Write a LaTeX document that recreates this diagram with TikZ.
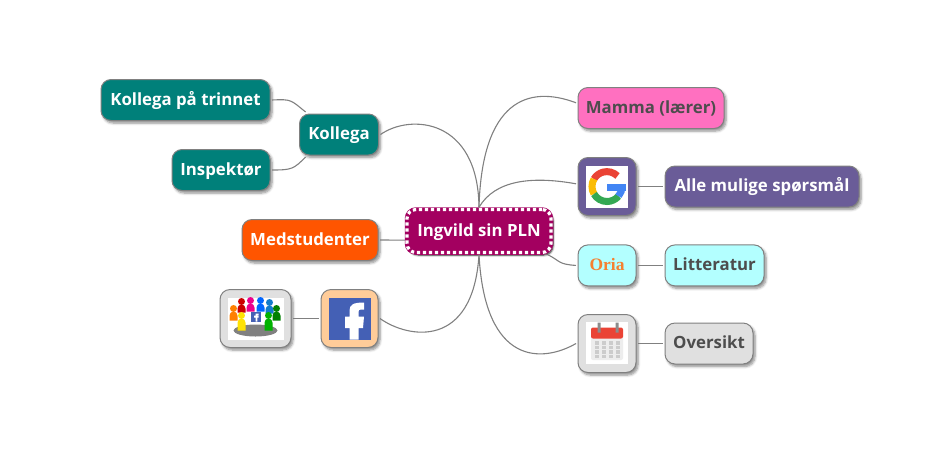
\documentclass[tikz,border=0pt]{standalone}
\usepackage{fontspec}
\setmainfont{Open Sans}
\newfontfamily\oriafont{Liberation Serif}
\usetikzlibrary{shadows,shadows.blur}

\definecolor{tealcol}{HTML}{00807A}
\definecolor{orangecol}{HTML}{FF5500}
\definecolor{rootcol}{HTML}{A30060}
\definecolor{pinkcol}{HTML}{FF70C0}
\definecolor{violetcol}{HTML}{6A5C98}
\definecolor{cyancol}{HTML}{B3FFFF}
\definecolor{greycol}{HTML}{E0E0E0}
\definecolor{peachcol}{HTML}{FFCC99}
\definecolor{edgecol}{HTML}{808080}
\definecolor{darktext}{HTML}{4D4D4D}
\definecolor{fbblue}{HTML}{4460B5}
\definecolor{oriacol}{HTML}{F58030}
\definecolor{gred}{HTML}{EA4335}
\definecolor{gyellow}{HTML}{FBBC05}
\definecolor{ggreen}{HTML}{34A853}
\definecolor{gblue}{HTML}{4285F4}

\tikzset{
  mapnode/.style={draw=edgecol,line width=1pt,rounded corners=10pt,inner sep=0pt,outer sep=2pt,
    minimum height=41pt,text height=13pt,text depth=3pt,font=\fontsize{16.8}{18}\selectfont\bfseries,
    blur shadow={shadow xshift=2pt,shadow yshift=-2.5pt,shadow blur steps=6,shadow blur radius=2.5pt,shadow opacity=45}},
  lightnode/.style={mapnode,text=darktext},
  darknode/.style={mapnode,text=white},
  iconbox/.style={mapnode,minimum width=58pt,minimum height=58pt},
  rootnode/.style={rounded corners=9pt,fill=rootcol,draw=rootcol,line width=4.5pt,text=white,inner sep=0pt,
    minimum width=144pt,minimum height=43pt,text height=13pt,text depth=3pt,font=\fontsize{16.8}{18}\selectfont\bfseries,
    blur shadow={shadow xshift=2pt,shadow yshift=-2.5pt,shadow blur steps=6,shadow blur radius=2pt,shadow opacity=90},
    postaction={draw=white,line width=3.2pt,dash pattern=on 3.2pt off 2.8pt}},
  link/.style={draw=edgecol,line width=1.1pt},
}

\begin{document}
\begin{tikzpicture}[x=1pt,y=-1pt]
\useasboundingbox (0,0) rectangle (940,475);

% nodes
\node[rootnode] (root) at (479,231) {Ingvild sin PLN};
\node[darknode,fill=orangecol,minimum width=136pt] (medstud) at (310,240) {Medstudenter};
\node[darknode,fill=tealcol,minimum width=169pt] (trinnet) at (185.5,100) {Kollega på trinnet};
\node[darknode,fill=tealcol,minimum width=79pt] (kollega) at (339,134.5) {Kollega};
\node[darknode,fill=tealcol,minimum width=98pt] (inspektor) at (221,170) {Inspektør};
\node[lightnode,fill=pinkcol,minimum width=146pt] (mamma) at (651,108) {Mamma (lærer)};
\node[iconbox,fill=violetcol] (google) at (607,186.5) {};
\node[darknode,fill=violetcol,minimum width=194pt] (alle) at (762,186.5) {Alle mulige spørsmål};
\node[lightnode,fill=cyancol,minimum width=58pt] (oria) at (607,265.4) {\oriafont\fontsize{17.5}{18}\selectfont\textcolor{oriacol}{Oria}};
\node[lightnode,fill=cyancol,minimum width=99pt] (litteratur) at (714.5,265.4) {Litteratur};
\node[iconbox,fill=greycol] (kalender) at (607,343.5) {};
\node[lightnode,fill=greycol,minimum width=88pt] (oversikt) at (709,343.5) {Oversikt};
\node[iconbox,fill=peachcol,minimum width=57pt] (facebook) at (349.5,318.5) {};
\node[iconbox,fill=greycol,minimum width=71pt] (gruppe) at (255.5,318.5) {};

% connectors
\draw[link] (kollega.east) .. controls +(30,-21) and +(-1,-89) .. (root.north);
\draw[link] (mamma.176) .. controls +(-48,-18) and +(3,-107) .. (root.north);
\draw[link] (google.175) .. controls +(-45,-8) and +(16,-27) .. (root.north);
\draw[link] (oria.west) .. controls +(-18,-1) and +(12,6) .. (root.-19);
\draw[link] (kalender.west) .. controls +(-33,19) and +(6,112) .. (root.south);
\draw[link] (facebook.east) .. controls +(28,20) and +(-6,95) .. (root.south);
\draw[link] (medstud.east) -- (root.187);
\draw[link] (trinnet.east) .. controls +(20,-1) and +(-15,-12) .. (kollega.146);
\draw[link] (inspektor.east) .. controls +(20,0) and +(-12,12) .. (kollega.-146);
\draw[link] (google.east) -- (alle.west);
\draw[link] (oria.east) -- (litteratur.west);
\draw[link] (kalender.east) -- (oversikt.west);
\draw[link] (gruppe.east) -- (facebook.west);

% google icon
\begin{scope}[shift={(google.center)}]
\fill[white] (-21,-21) rectangle (21,21);
\draw[gred,line width=7pt] (10.5,-10.5) arc[start angle=45,end angle=150,radius=15pt];
\draw[gyellow,line width=7pt] (-13,-7.5) arc[start angle=150,end angle=210,radius=15pt];
\draw[ggreen,line width=7pt] (-13,7.5) arc[start angle=210,end angle=320,radius=15pt];
\draw[gblue,line width=7pt] (11.5,9.6) arc[start angle=320,end angle=360,radius=15pt];
\fill[gblue] (0,-3) rectangle (18.5,4);
\end{scope}

% facebook icon
\begin{scope}[shift={(facebook.center)}]
\fill[fbblue] (-21,-21) rectangle (21,21);
\fill[white] (0,21) -- (0,9.5) -- (-4.5,9.5) -- (-4.5,-2) -- (0,-2) -- (0,-8)
  .. controls (0,-14) and (4,-16) .. (14.5,-16) -- (14.5,-9) -- (11,-9)
  .. controls (9.5,-9) and (9,-8) .. (9,-6) -- (9,-2) -- (14.5,-2) -- (13.5,9.5) -- (9,9.5) -- (9,21) -- cycle;
\end{scope}

% group icon
\begin{scope}[shift={(gruppe.center)}]
\fill[white] (-28,-21) rectangle (28,21);
\fill[black!50] (0,12) ellipse (22pt and 6pt);
\foreach \px/\py/\plen/\pcol in {-14/-17/11/red!80!black,-5/-18/11/magenta,5/-18/11/blue!60!cyan,14/-16/11/cyan!60!blue,
    -22/-10/12/orange,21/-10/12/green!50!black} {
  \fill[\pcol] (\px,\py) circle (3.5pt);
  \fill[\pcol] (\px-4,\py+\plen) -- (\px-4,\py+7) arc[start angle=180,end angle=0,radius=4pt] -- (\px+4,\py+\plen) -- cycle;
}
\fill[fbblue] (-5,-7) rectangle (5,3);
\fill[white] (0,3) -- (0,-1) -- (-1.5,-1) -- (-1.5,-3) -- (0,-3) -- (0,-5) -- (3,-5) -- (3,-3.5) -- (1.8,-3.5) -- (1.8,-3) -- (3,-3) -- (3,-1) -- (1.8,-1) -- (1.8,3) -- cycle;
\foreach \px/\py/\plen/\pcol in {-14/-3/15/yellow!85!orange,13/-3/15/green!70!black} {
  \fill[\pcol] (\px,\py) circle (3.5pt);
  \fill[\pcol] (\px-4,\py+\plen) -- (\px-4,\py+7) arc[start angle=180,end angle=0,radius=4pt] -- (\px+4,\py+\plen) -- cycle;
}
\end{scope}

% calendar icon
\begin{scope}[shift={(kalender.center)}]
\fill[white] (-21,-21.5) rectangle (21,20.5);
\fill[black!7,rounded corners=2pt] (-16,-10) rectangle (16,16.5);
\fill[gred,rounded corners=2pt] (-16,-16) rectangle (16,-5);
\fill[black!45] (-9.5,-21) rectangle (-6.5,-11) (8.5,-21) rectangle (11.5,-11);
\foreach \gx in {-10.5,-3.5,3.5,10.5}
  \foreach \gy in {-0.5,4,8.5,13}
    \fill[black!20] (\gx-2,\gy-1.7) rectangle (\gx+2,\gy+1.7);
\end{scope}
\end{tikzpicture}
\end{document}
